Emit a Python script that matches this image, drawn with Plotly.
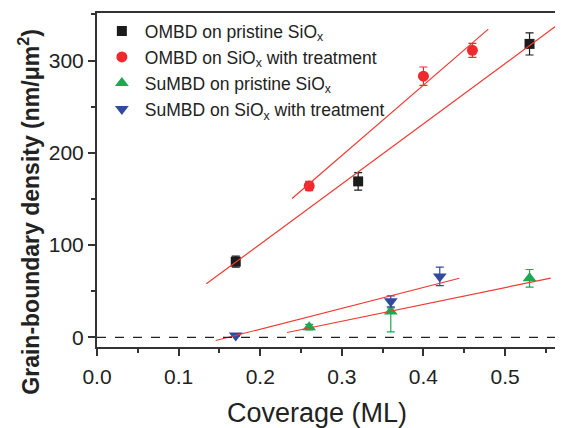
import plotly.graph_objects as go

# ---- data ----
series_names = [
    "OMBD on pristine SiO<sub>x</sub>",
    "OMBD on SiO<sub>x</sub> with treatment",
    "SuMBD on pristine SiO<sub>x</sub>",
    "SuMBD on SiO<sub>x</sub> with treatment",
]
ombd_pristine_x = [0.17, 0.32, 0.53]
ombd_pristine_y = [82, 169, 318]
ombd_pristine_err = [6, 9.5, 12]

ombd_treat_x = [0.26, 0.40, 0.46]
ombd_treat_y = [164, 283, 311]
ombd_treat_err = [5, 10, 7.5]

sumbd_pristine_x = [0.26, 0.36, 0.53]
sumbd_pristine_y = [11, 28, 64]
sumbd_pristine_err_plus = [3, 4, 9.5]
sumbd_pristine_err_minus = [3, 22, 9.5]

sumbd_treat_x = [0.17, 0.36, 0.42]
sumbd_treat_y = [2, 39, 66]
sumbd_treat_err = [1, 6, 10]

# linear fit lines (end points)
fit_x_start = [0.134, 0.239, 0.233, 0.1455]
fit_x_end = [0.565, 0.4795, 0.556, 0.444]
fit_y_start = [58, 150.4, 5.2, -3.5]
fit_y_end = [339, 334, 64.1, 64]

x_ticks = [0.0, 0.1, 0.2, 0.3, 0.4, 0.5]
y_ticks = [0, 100, 200, 300]

x_title = "Coverage (ML)"
y_title = "<b>Grain-boundary density (nm/μm<sup>2</sup>)</b>"

colors = ["#1c1c1c", "#ee2a2e", "#1ea851", "#2f4a9e"]
symbols = ["square", "circle", "triangle-up", "triangle-down"]
sizes = [10, 11, 12, 12]
fit_color = "#f03a32"
FONT = "Liberation Sans, Arial, sans-serif"

fig = go.Figure()

xs = [ombd_pristine_x, ombd_treat_x, sumbd_pristine_x, sumbd_treat_x]
ys = [ombd_pristine_y, ombd_treat_y, sumbd_pristine_y, sumbd_treat_y]
eplus = [ombd_pristine_err, ombd_treat_err, sumbd_pristine_err_plus, sumbd_treat_err]
eminus = [ombd_pristine_err, ombd_treat_err, sumbd_pristine_err_minus, sumbd_treat_err]

for i in range(4):
    fig.add_trace(go.Scatter(
        x=xs[i], y=ys[i], mode="markers", name=series_names[i],
        legendgroup=f"g{i}",
        marker=dict(symbol=symbols[i], size=sizes[i], color=colors[i], line=dict(width=0)),
        error_y=dict(type="data", array=eplus[i], arrayminus=eminus[i], symmetric=False,
                     color=colors[i], thickness=1.2, width=4),
    ))

for i in range(4):
    fig.add_trace(go.Scatter(
        x=[fit_x_start[i], fit_x_end[i]], y=[fit_y_start[i], fit_y_end[i]],
        mode="lines", line=dict(color=fit_color, width=1.2), showlegend=False,
        hoverinfo="skip",
    ))

fig.add_shape(type="line", xref="paper", yref="y", x0=0, x1=1, y0=0, y1=0,
              line=dict(color="#222222", width=1.2, dash="dash"))

# axis titles as annotations (placed as in the reference, slightly off-centre)
fig.add_annotation(text=y_title, textangle=-90, xref="paper", yref="paper",
                   x=-0.146, y=0.405, xanchor="center", yanchor="middle", showarrow=False,
                   font=dict(size=23, family=FONT, color="#222222"))
fig.add_annotation(text=x_title, xref="paper", yref="paper",
                   x=0.473, y=-0.198, xanchor="center", yanchor="middle", showarrow=False,
                   font=dict(size=27, family=FONT, color="#222222"))

# the page body adds an 8 px offset; margins below compensate for it
fig.update_layout(
    width=555, height=420,
    margin=dict(l=89, r=0, t=5, b=81),
    paper_bgcolor="white", plot_bgcolor="white",
    font=dict(family=FONT, color="#222222"),
    showlegend=True,
    legend=dict(x=0.004, y=1.0, xanchor="left", yanchor="top",
                font=dict(size=17.5, family=FONT, color="#222222"),
                bgcolor="rgba(0,0,0,0)", tracegroupgap=0.3, itemsizing="trace",
                itemwidth=36),
    xaxis=dict(
        range=[0, 0.571], tickvals=x_ticks, ticktext=[f"{v:.1f}" for v in x_ticks],
        ticks="outside", ticklen=7, tickwidth=1.5, tickcolor="#333333",
        minor=dict(ticks="outside", ticklen=4, dtick=0.05, tick0=0, tickcolor="#333333", tickwidth=1.5),
        showline=True, linecolor="#333333", linewidth=2, mirror=True,
        showgrid=False, zeroline=False, automargin=False, ticklabelstandoff=3,
        tickfont=dict(size=21, family=FONT, color="#222222"),
    ),
    yaxis=dict(
        range=[-10.5, 351.5], tickvals=y_ticks,
        ticks="outside", ticklen=7, tickwidth=1.5, tickcolor="#333333",
        minor=dict(ticks="outside", ticklen=4, dtick=50, tick0=0, tickcolor="#333333", tickwidth=1.5),
        showline=True, linecolor="#333333", linewidth=2, mirror=True,
        showgrid=False, zeroline=False, automargin=False,
        tickfont=dict(size=21, family=FONT, color="#222222"),
    ),
)

fig.write_html("out.html")
